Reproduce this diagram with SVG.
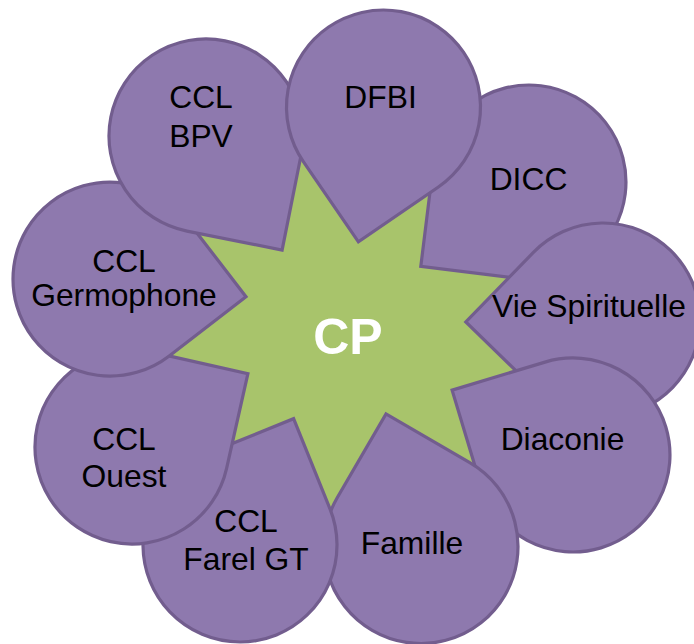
<svg xmlns="http://www.w3.org/2000/svg" width="694" height="644" viewBox="0 0 694 644">
  <style>
    .drop { fill: #8E79AE; stroke: #725D8E; stroke-width: 3.2; stroke-linejoin: miter; }
    .star { fill: #A8C46B; stroke: none; }
    .lbl { font-family: "Liberation Sans", Arial, sans-serif; font-size: 31.8px; fill: #000000; text-anchor: middle; }
    .center { font-family: "Liberation Sans", Arial, sans-serif; font-size: 50px; font-weight: bold; fill: #FFFFFF; text-anchor: middle; }
  </style>
  <rect width="694" height="644" fill="#FFFFFF"/>
  <g id="node-cp">
    <polygon class="star" points="358.4,241.9 429.9,192.8 420.8,266.4 509.2,277.3 465.8,322.0 516.1,370.8 452.1,390.1 474.9,465.6 386.0,413.9 330.3,509.6 293.6,418.7 232.2,443.5 247.9,373.7 169.1,356.0 246.0,296.7 197.1,233.1 282.1,250.1 300.6,157.6"/>
    <text class="center" x="348" y="354">CP</text>
  </g>
  <g id="node-dicc">
    <path class="drop" d="M 517.1 278.3 L 420.8 266.4 L 432.7 170.1 A 97 97 0 1 1 517.1 278.3 Z"/>
    <text class="lbl" x="528.5" y="190">DICC</text>
  </g>
  <g id="node-vie-spirituelle">
    <path class="drop" d="M 535.4 389.6 L 465.8 322.0 L 533.4 252.4 A 97 97 0 1 1 535.4 389.6 Z"/>
    <text class="lbl" x="589" y="317">Vie Spirituelle</text>
  </g>
  <g id="node-diaconie">
    <path class="drop" d="M 480.1 483.0 L 452.1 390.1 L 545.0 362.1 A 97 97 0 1 1 480.1 483.0 Z"/>
    <text class="lbl" x="562.5" y="450">Diaconie</text>
  </g>
  <g id="node-famille">
    <path class="drop" d="M 337.2 497.7 L 386.0 413.9 L 469.8 462.7 A 97 97 0 1 1 337.2 497.7 Z"/>
    <text class="lbl" x="412" y="554">Famille</text>
  </g>
  <g id="node-ccl-farel-gt">
    <path class="drop" d="M 203.6 455.1 L 293.6 418.7 L 329.9 508.6 A 97 97 0 1 1 203.6 455.1 Z"/>
    <text class="lbl" x="246" y="532">CCL</text>
    <text class="lbl" x="246" y="570">Farel GT</text>
  </g>
  <g id="node-ccl-ouest">
    <path class="drop" d="M 153.3 352.4 L 247.9 373.7 L 226.6 468.3 A 97 97 0 1 1 153.3 352.4 Z"/>
    <text class="lbl" x="124" y="450">CCL</text>
    <text class="lbl" x="124" y="487">Ouest</text>
  </g>
  <g id="node-ccl-germophone">
    <path class="drop" d="M 186.9 219.9 L 246.0 296.7 L 169.2 355.9 A 97 97 0 1 1 186.9 219.9 Z"/>
    <text class="lbl" x="124" y="272">CCL</text>
    <text class="lbl" x="124" y="306">Germophone</text>
  </g>
  <g id="node-ccl-bpv">
    <path class="drop" d="M 301.1 155.0 L 282.1 250.1 L 187.0 231.1 A 97 97 0 1 1 301.1 155.0 Z"/>
    <text class="lbl" x="201" y="108">CCL</text>
    <text class="lbl" x="201" y="147">BPV</text>
  </g>
  <g id="node-dfbi">
    <path class="drop" d="M 438.4 187.0 L 358.4 241.9 L 303.5 161.9 A 97 97 0 1 1 438.4 187.0 Z"/>
    <text class="lbl" x="380.5" y="108">DFBI</text>
  </g>
</svg>
